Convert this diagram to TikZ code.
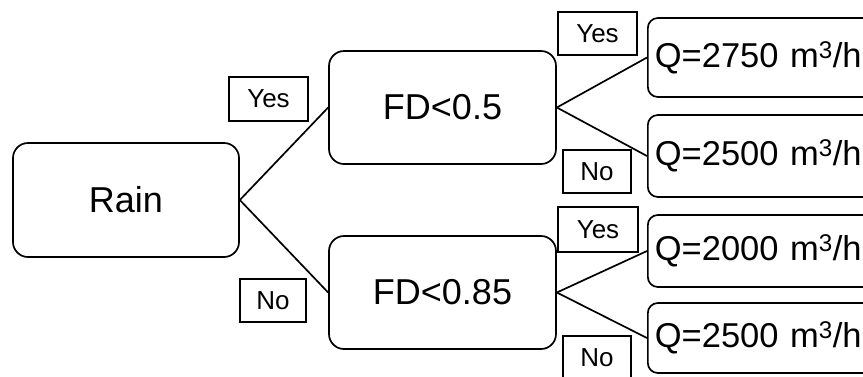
\documentclass[tikz,border=0pt]{standalone}
\usepackage{fontspec}
\setmainfont{Liberation Sans}
\begin{document}
\begin{tikzpicture}[x=1pt,y=-1pt,
  mainbox/.style={draw,line width=1.7pt,rounded corners=15pt,inner sep=0pt,
    font=\fontsize{36}{42}\selectfont},
  leafbox/.style={draw,line width=1.7pt,rounded corners=10pt,anchor=west,
    inner xsep=7pt,inner ysep=0pt,text width=280pt,align=left,
    font=\fontsize{34.5}{40}\selectfont},
  lab/.style={draw,line width=1.5pt,inner sep=0pt,
    font=\fontsize{26}{30}\selectfont},
  conn/.style={line width=1.7pt}]
\useasboundingbox (0,0) rectangle (863,376);
\clip (0,0) rectangle (863,376);
\fill[white] (0,0) rectangle (863,376);
\node[mainbox,minimum width=226pt,minimum height=114pt] (rain) at (126,200) {Rain};
\node[mainbox,minimum width=227pt,minimum height=113pt] (fda) at (442.5,107.5) {FD<0.5};
\node[mainbox,minimum width=227pt,minimum height=113pt] (fdb) at (442.5,292.5) {FD<0.85};
\node[leafbox,minimum height=79pt] (qa) at (647,57.5) {Q=2750 m\textsuperscript{3}/h};
\node[leafbox,minimum height=82pt] (qb) at (647,156) {Q=2500 m\textsuperscript{3}/h};
\node[leafbox,minimum height=72pt] (qc) at (647,251) {Q=2000 m\textsuperscript{3}/h};
\node[leafbox,minimum height=70pt] (qd) at (647,338) {Q=2500 m\textsuperscript{3}/h};
\node[lab,minimum width=79pt,minimum height=44pt] (ya) at (268.5,99) {Yes};
\node[lab,minimum width=66pt,minimum height=43pt] (na) at (273,300.5) {No};
\node[lab,minimum width=79pt,minimum height=43pt] (yb) at (597.5,33.5) {Yes};
\node[lab,minimum width=68pt,minimum height=43pt] (nb) at (597,171.5) {No};
\node[lab,minimum width=80pt,minimum height=45pt] (yc) at (598,229.5) {Yes};
\node[lab,minimum width=68pt,minimum height=43pt] (nc) at (597,357.5) {No};
\draw[conn] (rain.east) -- (fda.west);
\draw[conn] (rain.east) -- (fdb.west);
\draw[conn] (fda.east) -- (qa.west);
\draw[conn] (fda.east) -- (qb.west);
\draw[conn] (fdb.east) -- (qc.west);
\draw[conn] (fdb.east) -- (qd.west);
\end{tikzpicture}
\end{document}
